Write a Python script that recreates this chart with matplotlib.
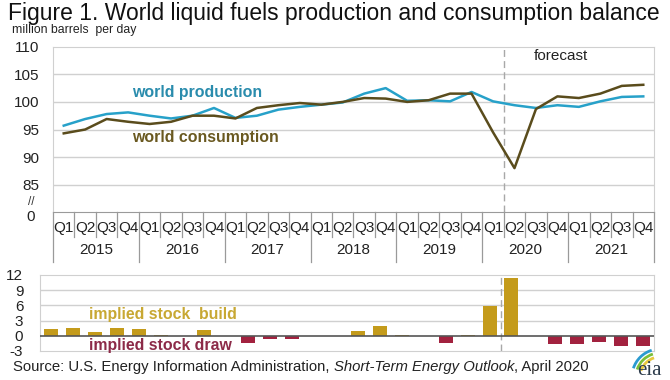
import matplotlib
matplotlib.use("Agg")
import matplotlib.pyplot as plt
import matplotlib.transforms as mtransforms
from matplotlib.patches import Arc

plt.rcParams['font.family'] = ['Liberation Sans', 'DejaVu Sans']

years = ['2015', '2016', '2017', '2018', '2019', '2020', '2021']
quarters = ['Q1', 'Q2', 'Q3', 'Q4']

production = [95.7, 96.9, 97.8, 98.1, 97.5, 97.0, 97.5, 98.9,
              97.1, 97.5, 98.6, 99.1, 99.5, 99.9, 101.5, 102.5,
              100.2, 100.3, 100.1, 101.8, 100.1, 99.4, 98.9, 99.4,
              99.1, 100.1, 100.9, 101.0]
consumption = [94.3, 95.0, 96.9, 96.4, 96.0, 96.4, 97.5, 97.5,
               97.0, 98.9, 99.4, 99.8, 99.5, 100.0, 100.7, 100.6,
               100.0, 100.3, 101.5, 101.5, 94.5, 88.0, 98.7, 101.0,
               100.7, 101.5, 102.9, 103.1]
stock_change = [1.3, 1.6, 0.8, 1.6, 1.4, 0.1, 0.0, 1.2,
                0.0, -1.5, -0.7, -0.7, 0.0, 0.0, 1.0, 2.0,
                0.1, 0.0, -1.4, 0.1, 5.8, 11.5, 0.0, -1.6,
                -1.6, -1.2, -2.0, -2.0]

top_ticks = [85, 90, 95, 100, 105, 110]
top_ticklabels = ['85', '90', '95', '100', '105', '110']
bot_ticks = [-3, 0, 3, 6, 9, 12]

W, H = 670, 380
fig = plt.figure(figsize=(6.7, 3.8), dpi=100)

def fx(px):
    return px / W

def fy(py):
    return 1 - py / H

grid_c = '#d0d0d0'
n = len(production)
x = list(range(n))
forecast_edge = 20.5

# ---------- top chart ----------
ax = fig.add_axes([fx(53), fy(212.3), fx(654) - fx(53), fy(46.7) - fy(212.3)])
ax.set_xlim(-0.5, n - 0.5)
ax.set_ylim(80, 110)
for v in top_ticks[:-1]:
    ax.axhline(v, color=grid_c, lw=1.0, zorder=0)
ax.plot(x, production, color='#27a1c9', lw=1.8, zorder=3)
ax.plot(x, consumption, color='#5a4c1c', lw=1.8, zorder=4)
ax.axvline(forecast_edge, color='#a8a8a8', lw=1.0, ls=(0, (5, 3)), zorder=1)
for s in ['top', 'left', 'right']:
    ax.spines[s].set_color(grid_c)
ax.spines['bottom'].set_color('#9a9a9a')
ax.set_xticks([])
ax.set_yticks(top_ticks)
ax.set_yticklabels(top_ticklabels, fontsize=11, color='#222222')
ax.tick_params(axis='y', length=0, pad=10)
# axis break marker and zero label
fig.text(fx(31), fy(201.5), '//', ha='center', va='center', fontsize=8.5, color='#333333')
fig.text(fx(35), fy(216.5), '0', ha='right', va='center', fontsize=11, color='#222222')

ax.text(3.17, 100.9, 'world production', fontsize=11.4, fontweight='bold', color='#2a8cad',
        ha='left', va='baseline')
ax.text(3.17, 92.8, 'world consumption', fontsize=11.4, fontweight='bold', color='#6a5920',
        ha='left', va='baseline')
ax.text(23.17, 107.6, 'forecast', fontsize=11, color='#222222', ha='center', va='baseline')

# category axis
trans = mtransforms.blended_transform_factory(ax.transData, ax.transAxes)
for i in range(n + 1):
    edge = i - 0.5
    bottom = -0.30 if i % 4 == 0 else -0.15
    ax.plot([edge, edge], [0, bottom], transform=trans, color='#9a9a9a', lw=0.9, clip_on=False)
for i in range(n):
    ax.text(i, -0.095, quarters[i % 4], transform=trans, ha='center', va='center',
            fontsize=11, color='#222222')
for k, yr in enumerate(years):
    ax.text(4 * k + 1.5, -0.228, yr, transform=trans, ha='center', va='center',
            fontsize=11, color='#222222')

# ---------- bottom chart ----------
bx = fig.add_axes([fx(40), fy(351), fx(654) - fx(40), fy(275) - fy(351)])
bx.set_xlim(-0.5, n - 0.5)
bx.set_ylim(-3, 12)
for v in [3, 6, 9]:
    bx.axhline(v, color=grid_c, lw=1.0, zorder=0)
colors = ['#c49b1b' if v >= 0 else '#a2223f' for v in stock_change]
bx.bar(x, stock_change, width=0.64, color=colors, zorder=2)
bx.axhline(0, color='#555555', lw=1.2, zorder=3)
bx.axvline(forecast_edge, color='#a8a8a8', lw=1.0, ls=(0, (5, 3)), zorder=1)
for s in ['top', 'left', 'right', 'bottom']:
    bx.spines[s].set_color(grid_c)
bx.set_xticks([])
bx.set_yticks(bot_ticks)
bx.set_yticklabels([str(t) for t in bot_ticks], fontsize=11, color='#222222')
bx.tick_params(axis='y', length=0, pad=12)
bx.text(1.73, 3.3, 'implied stock  build', fontsize=11.4, fontweight='bold', color='#c8a833',
        ha='left', va='baseline')
bx.text(1.73, -2.85, 'implied stock draw', fontsize=11.4, fontweight='bold', color='#8c2a48',
        ha='left', va='baseline')

# ---------- titles / source ----------
fig.text(fx(8), fy(20), 'Figure 1. World liquid fuels production and consumption balance',
         fontsize=16.5, color='#111111', ha='left', va='baseline')
fig.text(fx(12), fy(33), 'million barrels  per day', fontsize=8.8, color='#222222',
         ha='left', va='baseline')
src = fig.text(fx(13), fy(371.5), 'Source: U.S. Energy Information Administration, ',
               fontsize=10.7, color='#222222', ha='left', va='baseline')
fig.canvas.draw()
r = fig.canvas.get_renderer()
bb = src.get_window_extent(r)
src2 = fig.text(bb.x1 / fig.bbox.width, fy(371.5), 'Short-Term Energy Outlook',
                fontsize=10.7, style='italic', color='#222222', ha='left', va='baseline')
bb2 = src2.get_window_extent(r)
fig.text(bb2.x1 / fig.bbox.width, fy(371.5), ', April 2020', fontsize=10.7,
         color='#222222', ha='left', va='baseline')

# eia logo
fig.text(fx(649), fy(375), 'eia', fontsize=15, family=['Liberation Serif', 'DejaVu Serif'],
         color='#2b3a4a', ha='center', va='baseline')
for r_, c_ in [(28, '#2a9bd0'), (24, '#7cbf3a'), (20, '#e8c840')]:
    arc = Arc((fx(660), fy(377)), fx(r_ * 2), (r_ * 2) / H, theta1=100, theta2=150,
              transform=fig.transFigure, color=c_, lw=2)
    fig.add_artist(arc)

fig.savefig('out.png', dpi=100)
